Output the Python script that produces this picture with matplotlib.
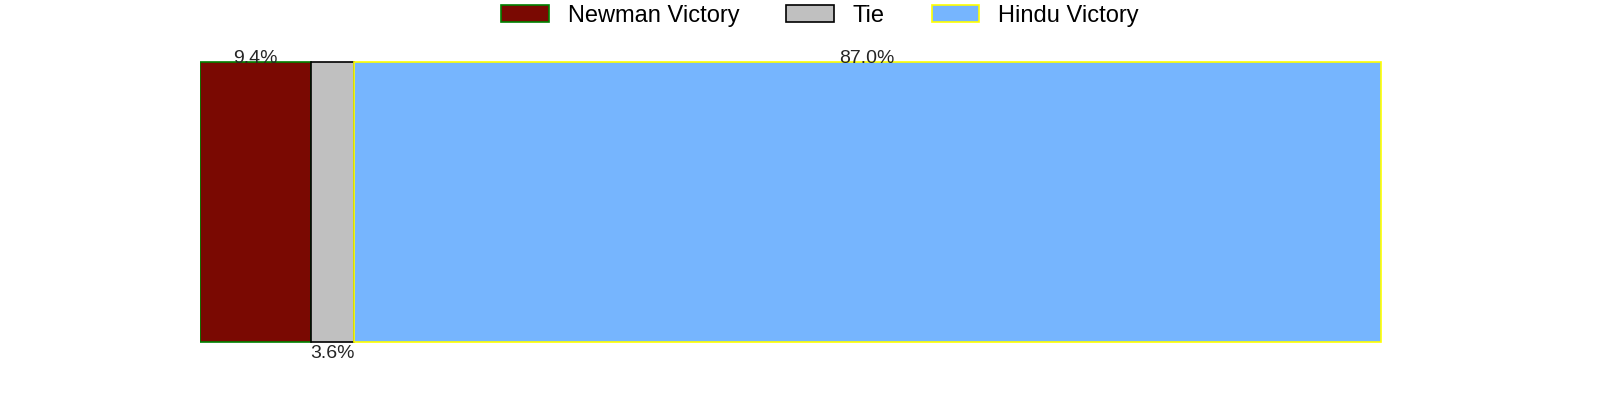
import matplotlib.pyplot as plt

plt.rcParams['font.family'] = ['Liberation Sans', 'DejaVu Sans']

categories = ['Newman Victory', 'Tie', 'Hindu Victory']
shares = [9.4, 3.6, 87.0]
colors = ['#7a0902', '#c0c0c0', '#76b5fe']
edges = ['green', 'black', 'yellow']
label_pos = ['top', 'bottom', 'top']

fig, ax = plt.subplots(figsize=(16, 4), dpi=100)

left = 0
for name, val, c, ec, pos in zip(categories, shares, colors, edges, label_pos):
    ax.barh(0, val, left=left, height=0.8, color=c, edgecolor=ec, linewidth=1.2, label=name)
    mid = left + val / 2
    if pos == 'top':
        ax.annotate(f'{val:.1f}%', (mid, 0.4), xytext=(0, -1), textcoords='offset points',
                    ha='center', va='baseline', fontsize=14, color='#262626')
    else:
        ax.annotate(f'{val:.1f}%', (mid, -0.4), xytext=(0, -2), textcoords='offset points',
                    ha='center', va='top', fontsize=14, color='#262626')
    left += val

ax.set_xlim(0, 105)
ax.axis('off')
ax.legend(loc='upper center', bbox_to_anchor=(0.5, 1.21), ncol=3, frameon=False, fontsize=17)

plt.savefig('out.png')
